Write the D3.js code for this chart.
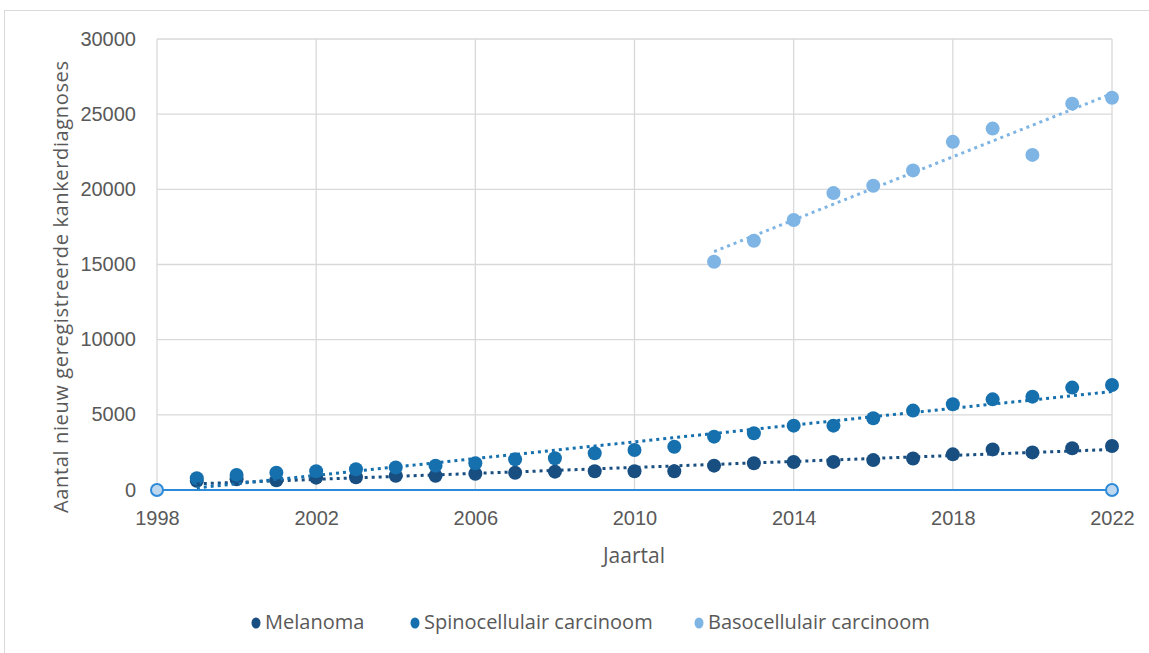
<!DOCTYPE html>
<html>
<head>
<meta charset="utf-8">
<script src="https://cdn.jsdelivr.net/npm/d3@7"></script>
<style>
  html, body { margin: 0; padding: 0; background: #fff; }
  svg { display: block; font-family: "Open Sans", sans-serif; }
</style>
</head>
<body>
<svg id="chart" width="1149" height="653"></svg>
<script>
// ---- data ----
const years = [1999,2000,2001,2002,2003,2004,2005,2006,2007,2008,2009,2010,2011,2012,2013,2014,2015,2016,2017,2018,2019,2020,2021,2022];
const melanoma = [620,720,650,820,850,950,950,1080,1150,1220,1250,1250,1250,1620,1775,1860,1870,1990,2100,2370,2700,2500,2780,2930];
const spino = [780,1000,1150,1250,1380,1500,1620,1775,2040,2110,2440,2660,2880,3550,3770,4280,4280,4770,5280,5700,6030,6210,6810,6985];
const basoYears = [2012,2013,2014,2015,2016,2017,2018,2019,2020,2021,2022];
const baso = [15180,16580,17960,19750,20240,21260,23160,24040,22290,25700,26090];
const xTicks = [1998,2002,2006,2010,2014,2018,2022];
const yTicks = [0,5000,10000,15000,20000,25000,30000];
const seriesNames = ["Melanoma","Spinocellulair carcinoom","Basocellulair carcinoom"];
const colors = ["#184e80","#1670ad","#7fb5e4"];

const svg = d3.select("#chart");
const x = d3.scaleLinear().domain([1998,2022]).range([157,1112]);
const y = d3.scaleLinear().domain([0,30000]).range([490,39]);

// chart border
svg.append("rect").attr("x",4.5).attr("y",10.5).attr("width",1170).attr("height",700)
  .attr("fill","none").attr("stroke","#d9d9d9").attr("stroke-width",1);

// gridlines
svg.append("g").selectAll("line").data(yTicks).join("line")
  .attr("x1",x(1998)).attr("x2",x(2022)).attr("y1",d=>y(d)).attr("y2",d=>y(d))
  .attr("stroke","#d9d9d9").attr("stroke-width",1.3);
svg.append("g").selectAll("line").data(xTicks).join("line")
  .attr("x1",d=>x(d)).attr("x2",d=>x(d)).attr("y1",y(0)).attr("y2",y(30000))
  .attr("stroke","#d9d9d9").attr("stroke-width",1.3);

// axes labels via d3 axes
const yAxis = svg.append("g").attr("transform",`translate(${x(1998)},0)`)
  .call(d3.axisLeft(y).tickValues(yTicks).tickFormat(d3.format("d")).tickSize(0).tickPadding(21));
yAxis.select(".domain").remove();
yAxis.selectAll("text").attr("fill","#595959").style("font-size","20px").attr("dy","0.3em");

const xAxis = svg.append("g").attr("transform",`translate(0,${y(0)})`)
  .call(d3.axisBottom(x).tickValues(xTicks).tickFormat(d3.format("d")).tickSize(0).tickPadding(21));
xAxis.select(".domain").remove();
xAxis.selectAll("text").attr("fill","#595959").style("font-size","20px");

// axis titles
svg.append("text").attr("x",634).attr("y",563).attr("text-anchor","middle")
  .attr("fill","#595959").style("font-size","21px").text("Jaartal");
svg.append("text").attr("transform","translate(68,287) rotate(-90)").attr("text-anchor","middle")
  .attr("fill","#595959").style("font-size","20px")
  .attr("textLength",452).attr("lengthAdjust","spacing")
  .text("Aantal nieuw geregistreerde kankerdiagnoses");

// linear trend helper
function linfit(xs, ys) {
  const n = xs.length, mx = d3.mean(xs), my = d3.mean(ys);
  let sxy = 0, sxx = 0;
  for (let i = 0; i < n; i++) { sxy += (xs[i]-mx)*(ys[i]-my); sxx += (xs[i]-mx)**2; }
  const b = sxy/sxx, a = my - b*mx;
  return [[xs[0], a + b*xs[0]], [xs[n-1], a + b*xs[n-1]]];
}

const series = [
  {xs: years, ys: melanoma, c: colors[0]},
  {xs: years, ys: spino, c: colors[1]},
  {xs: basoYears, ys: baso, c: colors[2]}
];

const line = d3.line().x(d=>x(d[0])).y(d=>y(d[1]));

// zero baseline series
svg.append("path").datum([[1998,0],[2022,0]]).attr("d",line)
  .attr("stroke","#2d8ad8").attr("stroke-width",2).attr("fill","none");

// markers
series.forEach(s => {
  svg.append("g").selectAll("circle").data(s.xs.map((v,i)=>[v,s.ys[i]])).join("circle")
    .attr("cx",d=>x(d[0])).attr("cy",d=>y(d[1])).attr("r",7).attr("fill",s.c);
});

// trendlines
series.forEach(s => {
  svg.append("path").datum(linfit(s.xs, s.ys)).attr("d",line)
    .attr("stroke",s.c).attr("stroke-width",3).attr("stroke-dasharray","3,4")
    .attr("fill","none");
});

// baseline end markers
svg.append("g").selectAll("circle").data([1998,2022]).join("circle")
  .attr("cx",d=>x(d)).attr("cy",y(0)).attr("r",6)
  .attr("fill","#bdd7ee").attr("stroke","#2d8ad8").attr("stroke-width",2);

// legend
const legendItems = [
  {name: seriesNames[0], c: colors[0], x: 256},
  {name: seriesNames[1], c: colors[1], x: 415},
  {name: seriesNames[2], c: colors[2], x: 699}
];
const lg = svg.append("g");
legendItems.forEach(l => {
  lg.append("ellipse").attr("cx",l.x).attr("cy",623).attr("rx",4.5).attr("ry",5.5).attr("fill",l.c);
  lg.append("text").attr("x",l.x+9).attr("y",622).attr("dy","0.35em")
    .attr("fill","#595959").style("font-size","20px").text(l.name);
});
</script>
</body>
</html>
